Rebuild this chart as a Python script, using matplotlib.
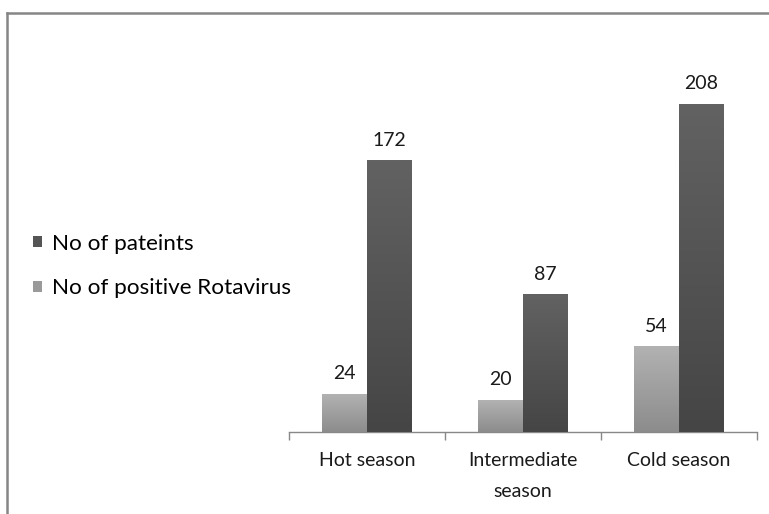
import matplotlib
matplotlib.use("Agg")
import matplotlib.pyplot as plt
import numpy as np
from matplotlib.lines import Line2D
from matplotlib.patches import Patch
from matplotlib.colors import LinearSegmentedColormap

categories = ["Hot season", "Intermediate\nseason", "Cold season"]
series_names = ["No of pateints", "No of positive Rotavirus"]
patients = [172, 87, 208]
positive = [24, 20, 54]

W, H = 769, 514
fig = plt.figure(figsize=(W / 100, H / 100), dpi=100)
plt.rcParams['font.family'] = ['Lato', 'DejaVu Sans']

ax = fig.add_axes([289 / W, (H - 432) / H, (757 - 289) / W, (432 - 60) / H])
x = np.arange(len(categories))
bw = 0.287
dark_c = "#555555"
light_c = "#9a9a9a"

bars_l = ax.bar(x - bw / 2, positive, bw, color=light_c, zorder=2)
bars_d = ax.bar(x + bw / 2, patients, bw, color=dark_c, zorder=2)

cm_dark = LinearSegmentedColormap.from_list("d", ["#454545", "#626262"])
cm_light = LinearSegmentedColormap.from_list("l", ["#8c8c8c", "#b2b2b2"])
grad = np.linspace(0, 1, 256).reshape(-1, 1)
for bars, cm in ((bars_l, cm_light), (bars_d, cm_dark)):
    for b in bars:
        x0, y0 = b.get_x(), b.get_y()
        ax.imshow(grad, cmap=cm, origin="lower", aspect="auto",
                  extent=(x0, x0 + b.get_width(), y0, y0 + b.get_height()), zorder=3)

ax.set_xlim(-0.5, 2.5)
ax.set_ylim(0, 236)

fs = 14
for bars, vals in ((bars_l, positive), (bars_d, patients)):
    for b, v in zip(bars, vals):
        ax.annotate(str(v), (b.get_x() + b.get_width() / 2, v), xytext=(0, 15),
                    textcoords="offset points", ha="center", va="center",
                    fontsize=fs, color="#1a1a1a")

for s in ["top", "right", "left"]:
    ax.spines[s].set_visible(False)
ax.spines["bottom"].set_color("#888888")
ax.spines["bottom"].set_linewidth(1.0)
ax.set_yticks([])
ax.set_xticks([-0.5, 0.5, 1.5, 2.5], minor=False)
ax.set_xticklabels([])
ax.tick_params(axis="x", length=6, color="#888888", width=1.0)
for i, c in enumerate(categories):
    ax.text(i, -0.055, c, transform=ax.get_xaxis_transform(), ha="center", va="top",
            fontsize=fs, color="#1a1a1a", linespacing=2.0)

# border
fig.add_artist(Line2D([7 / W, 7 / W], [0, 1 - 13 / H], transform=fig.transFigure,
                      color="#868686", lw=1.8))
fig.add_artist(Line2D([7 / W, 1.0], [1 - 13 / H, 1 - 13 / H], transform=fig.transFigure,
                      color="#868686", lw=1.8))

handles = [Patch(facecolor=dark_c), Patch(facecolor=light_c)]
fig.legend(handles, series_names, loc="center left", bbox_to_anchor=(33 / W, 1 - 266 / H),
           frameon=False, fontsize=16.2, handlelength=0.42, handleheight=0.42,
           handletextpad=0.42, labelspacing=1.1, borderaxespad=0, borderpad=0)

fig.savefig("out.png", dpi=100)
